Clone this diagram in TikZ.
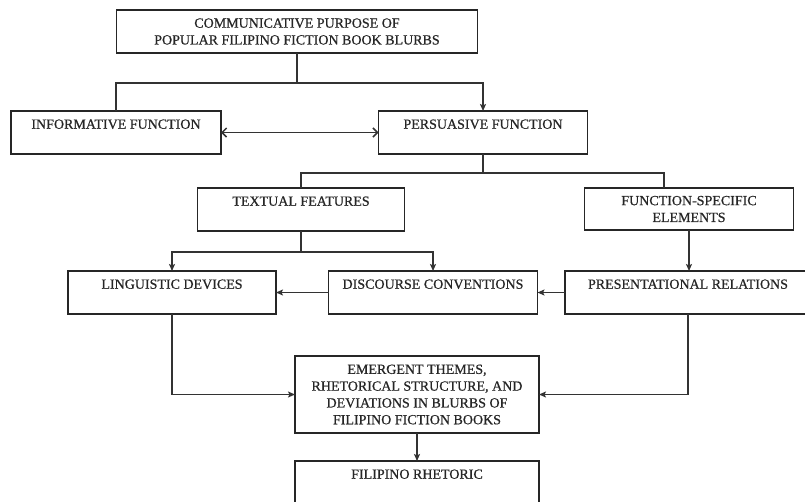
\documentclass[tikz,border=0pt]{standalone}
\usepackage{fontspec}
\setmainfont{Liberation Serif}
\newfontfamily\boxfont{Liberation Serif}[FakeBold=0.6]
\usetikzlibrary{arrows.meta}
\begin{document}
\begin{tikzpicture}[x=1pt,y=-1pt,
  every node/.style={inner sep=0pt, outer sep=0pt},
  box/.style={draw=black!85, line width=1.5pt, rectangle, align=center,
    font=\boxfont\fontsize{14}{16.8}\selectfont, text=black!85},
  conn/.style={draw=black!80, line width=1.5pt},
  arr/.style={conn, -{Stealth[length=7pt,width=6pt,inset=1.5pt]}},
  darr/.style={conn, {Straight Barb[length=4.5pt,width=9pt]}-{Straight Barb[length=4.5pt,width=9pt]}}]
\path[use as bounding box, clip] (0,0) rectangle (805,501);
\fill[white] (0,0) rectangle (805,501);

\node[box, minimum width=361pt, minimum height=43pt] (top) at (297,31.5)
  {COMMUNICATIVE PURPOSE OF\\POPULAR FILIPINO FICTION BOOK BLURBS};
\node[box, minimum width=210pt, minimum height=43pt] (inf) at (116,132.5)
  {INFORMATIVE FUNCTION\\\mbox{}};
\node[box, minimum width=209pt, minimum height=43pt] (per) at (483,132.5)
  {PERSUASIVE FUNCTION\\\mbox{}};
\node[box, minimum width=207pt, minimum height=43pt] (tex) at (301,209.5)
  {TEXTUAL FEATURES\\\mbox{}};
\node[box, minimum width=209pt, minimum height=42pt] (fse) at (689,209)
  {FUNCTION-SPECIFIC\\ELEMENTS};
\node[box, minimum width=208pt, minimum height=43pt] (lin) at (172,292.5)
  {LINGUISTIC DEVICES\\\mbox{}};
\node[box, minimum width=209pt, minimum height=43pt] (dis) at (433,292.5)
  {DISCOURSE CONVENTIONS\\\mbox{}};
\node[box, minimum width=246pt, minimum height=43pt] (pre) at (688,292.5)
  {PRESENTATIONAL RELATIONS\\\mbox{}};
\node[box, minimum width=244pt, minimum height=77pt] (emg) at (417,394.5)
  {EMERGENT THEMES,\\RHETORICAL STRUCTURE, AND\\DEVIATIONS IN BLURBS OF\\FILIPINO FICTION BOOKS};
\node[box, minimum width=244pt, minimum height=43pt] (fil) at (417,482.5)
  {FILIPINO RHETORIC\\\mbox{}};

\coordinate (j1) at (297,83);
\coordinate (j2) at (483,173);
\coordinate (j3) at (301,252);

\draw[conn] (top.south) -- (j1);
\draw[conn] (inf.north) |- (j1);
\draw[arr] (j1) -| (per.north);
\draw[darr] (inf.east) -- (per.west);

\draw[conn] (per.south) -- (j2);
\draw[conn] (j2) -| (tex.north);
\draw[conn] (j2) -| ([xshift=-25pt]fse.north);

\draw[conn] (tex.south) -- (j3);
\draw[arr] (j3) -| (lin.north);
\draw[arr] (j3) -| (dis.north);
\draw[arr] (fse.south) -- (fse.south |- pre.north);

\draw[arr] (dis.west) -- (lin.east);
\draw[arr] (pre.west) -- (dis.east);

\draw[arr] (lin.south) |- (emg.west);
\draw[arr] (pre.south) |- (emg.east);
\draw[arr] (emg.south) -- (fil.north);
\end{tikzpicture}
\end{document}
